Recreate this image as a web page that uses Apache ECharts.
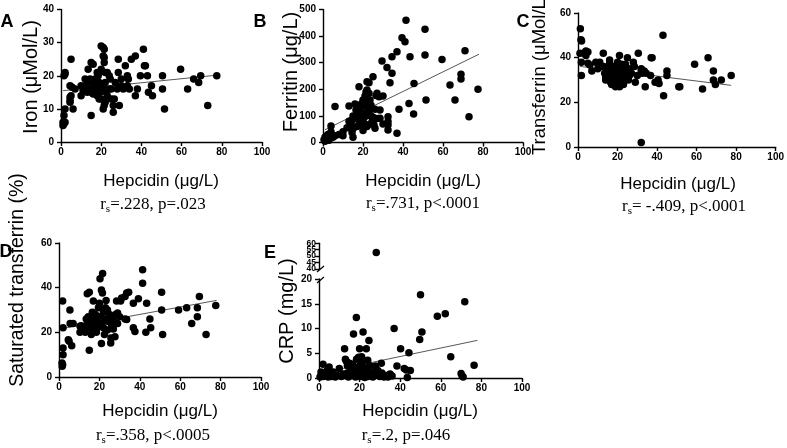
<!DOCTYPE html>
<html><head><meta charset="utf-8">
<script src="https://cdn.jsdelivr.net/npm/echarts@6/dist/echarts.min.js"></script>
<style>html,body{margin:0;padding:0;background:#fff}#c{width:787px;height:448px}</style>
</head><body><div id="c"></div>
<script>
// ---------- data (x = hepcidin µg/L) ----------
const xTitle = 'Hepcidin (\u03bcg/L)';
const panelLetters = ['A','B','C','D','E'];
const yTitles = ['Iron (\u03bcMol/L)','Ferritin (\u03bcg/L)','Transferrin (\u03bcMol/L)','Saturated transferrin (%)','CRP (mg/L)'];
const statTexts = ['=.228, p=.023','=.731, p<.0001','= -.409, p<.0001','=.358, p<.0005','=.2, p=.046'];
const crpUpperTicksA = [40,50,60];
const crpUpperTicksB = [45,55];

const ironPts = [[5,25],[2,21],[2,20.5],[1.5,20],[2,10],[1.5,8],[1,6],[1.5,5.5],[2,6],[1,5],[4.5,13.5],[4.5,12.5],[4.5,12],[5,14],[6,10],[4.5,17],[5.5,16.5],[7,16],[10,17],[10,14],[13.5,22],[15,24],[16,23.5],[15,8],[13,18],[14,18.5],[14.5,19],[13,15],[14,16],[15,15],[16,14.5],[16,16],[17,17],[17,15],[18,14],[18,16],[18.5,20],[19,21],[19,18],[19.5,15],[20,29],[21,28.5],[21.5,28],[21,26],[21.5,25.5],[21.5,24],[20,22],[22,21],[23,21],[21,10],[21.5,11],[20,13],[20,16],[21,17],[22,18],[22.5,15],[23,14],[24,16],[24.5,19],[25,16],[26,11],[26,9],[25,13],[26.5,13],[28.5,25],[28.5,21],[29,11],[28,16],[30,17],[31,16],[32,23],[33,20],[33.5,19],[33,17],[35,25],[37,26],[41,28],[41.5,23],[42,23],[39.5,20],[43,20],[38,16],[37,14],[43.5,15],[45,17],[45.5,14],[50.5,20],[50.5,16],[51.5,10],[59.5,22],[63,16],[66,19],[68.5,18],[69.5,20],[73,11],[77.5,20],[18,21],[17,19],[12,16],[11,15.5],[24,20],[27,18],[30,19],[34,16],[16,17.5],[19,13],[22,12],[12,19]];
const ironFit = [[1,15.5],[78,20.2]];

const ferritinPts = [[0.5,10],[1,20],[1.5,15],[2,25],[1,5],[2.5,30],[3,18],[4,62],[4,40],[5,20],[6,135],[6,25],[10,40],[10,25],[13,137],[13,80],[14,72],[14.5,85],[14.5,38],[15,20],[15,52],[16,145],[16.5,122],[17,88],[17,60],[18,210],[18,90],[18.5,75],[19,66],[19.5,147],[20,160],[20,110],[20.5,95],[21,175],[21,140],[21.5,190],[22,228],[22,197],[22,150],[22.5,130],[23,225],[23,185],[23,115],[23.5,160],[24,100],[24.5,78],[25,95],[25,247],[25.5,66],[26,54],[26.5,177],[27,185],[28,172],[28.5,122],[28.5,91],[29.5,306],[30,175],[32,282],[32.5,97],[32.5,79],[32.5,66],[32.5,47],[33.5,225],[34.5,260],[34.5,322],[37,341],[37,35],[38,125],[39.5,394],[41,379],[41.5,460],[43.5,322],[43,147],[45.3,107],[45.5,222],[51,426],[51,329],[51.5,160],[59.5,312],[63.5,216],[66,160],[69,257],[69,239],[71,345],[73,97],[77.5,200],[20,80],[21,70],[19,120],[17,105],[24,140],[22,60],[12,55],[8,30],[3,8],[15,100],[26,125],[20,45],[21.5,100],[18,140],[27,90],[30,70],[24,70]];
const ferritinFit = [[1,48],[78,332]];

const transferrinPts = [[1.2,53],[1.5,48],[1.8,47.5],[1,42],[1.7,38],[1.7,32],[3,42],[4,43],[5,42.5],[4,41],[5,37.5],[6,36.7],[7,34],[9,38],[10,35],[12.8,42],[13,36],[13.5,33],[14,31],[14,30],[15,35],[15.5,32],[16,39],[16,37.5],[16.5,29],[17,34],[17,28],[17.5,36],[18,33],[18.5,31],[19,27],[19,35],[19.5,30],[20,37],[20,32],[20.5,34],[21,27],[21,28.5],[21,41],[21.5,31],[22,35],[22,33],[22.5,30],[23,36],[23.5,32],[24,34],[25,40],[25,31],[25.5,30],[26,35],[27,33],[28,38],[28.5,36],[29,29],[30.5,42],[30,32],[32,35],[32,34.3],[32,2],[32.5,33],[33.5,34],[34,27],[34.5,33],[37,40],[37.5,40],[36.7,32],[39,29],[40.5,30],[41,28.4],[43,50],[43.3,23],[45,34],[45,32],[51,27],[51.5,27],[59,37],[63,26],[65.8,40],[68.5,34],[68.5,30],[69.5,28],[72.5,30],[77.5,32],[18,32],[15,33],[12,36],[11,38],[20,38],[24,37],[26,32],[19,33],[23,28],[22,37],[17,31]];
const transferrinFit = [[1,36.1],[77.5,27.6]];

const satPts = [[1.8,34],[2,22],[2,13],[2,10],[1.5,6.3],[1.8,5.5],[1.6,4.8],[4.6,16.7],[5,16],[5.4,30],[5.5,24],[7,24],[6.3,14],[10.4,22.7],[10.4,20],[13,20],[14,37.3],[15,38],[15,12],[13.5,26],[14,24],[14.5,27],[15,22],[16,25],[16.5,29],[17,34],[17,21],[17.5,26],[18,28],[18,23],[18.5,20],[19,25],[19.5,31],[20,27],[20.3,44],[21.6,46.3],[21,39],[21.5,37.6],[21,15],[21,24],[22,22],[22,29],[22.5,19],[23,26],[23.3,34.3],[24,25],[24,21],[25,28],[25.6,15.2],[25.7,17.5],[26,23],[26.9,21.5],[27.7,18],[27,25],[28.5,34],[28,28],[29,28.7],[30,27],[30.5,34],[31,35.4],[32.7,36],[32.7,26],[33.5,37.6],[33.5,25.7],[34.5,38],[36.8,33],[36.8,22],[37.6,20.4],[39.3,35],[41.4,48],[41.4,42],[43.4,33],[43,20],[45,26],[45.4,22],[50.8,38],[50.8,30],[51.3,19],[59.2,30],[63.2,31],[65.7,24],[68.5,31],[68.5,27],[69.5,36],[72.8,19],[77.6,32],[12,22],[16,19],[19,22],[20,33],[23,31],[26,27],[17,27],[11,23],[29,24],[24,30]];
const satFit = [[0.5,21.5],[78,34.3]];

const crpPts = [[0.5,0.2],[1,0.5],[1,1.2],[1.5,0.8],[2,2.8],[2,0.3],[3,1],[3.5,0.5],[4,1.5],[4.5,0.2],[5,2.2],[5.5,0.8],[6,0.3],[7,1.2],[9,0.5],[10,1.9],[11,0.3],[12,0.8],[12.6,5.9],[13,3.8],[13.5,3.4],[14,2.5],[14,1],[14.5,0.2],[15,3],[15.5,1.5],[16,0.5],[16.5,2.8],[17,8.9],[17.5,1],[18,0.2],[18.4,12.2],[18.5,3.8],[19,2],[19.5,4.2],[20,5.9],[20,1.2],[20.5,0.3],[21,3],[21,4.3],[21.7,9.3],[22,2.2],[22,0.8],[22.5,0.1],[23,1.5],[23.3,5.9],[24,3.6],[24.6,7.6],[25,0.5],[26,1.2],[26.5,0.2],[27.8,2.4],[28.2,52.8],[28.5,0.8],[29,1.5],[30,0.3],[30.7,3],[31,1],[32,0.2],[33,0.5],[34,0.2],[35,0.8],[37,10],[38.4,2.4],[40.2,5.9],[42,1.9],[43,1.6],[43.5,0.1],[44.3,5.1],[45,1.5],[49.6,7.8],[50,16.8],[50.7,9.3],[58.3,12.5],[62.2,13],[64.9,4.3],[70,0.9],[70.5,0.4],[71,0.2],[71.8,15.4],[76.4,2.6],[8,0.2],[16,2],[18,1.8],[24,0.3],[27,0.4],[36,0.4],[13,0.5],[20,2.5],[25,2.5]];
const crpFit = [[1,1.0],[78,7.6]];

// ---------- chart ----------
const chart = echarts.init(document.getElementById('c'), null, {renderer:'canvas'});
const SANS = 'Liberation Sans, Arial, sans-serif';
const SERIF = 'Liberation Serif, Times New Roman, serif';
const axLine = {show:true, onZero:false, lineStyle:{color:'#000', width:1.4}};
const axTick = {show:true, length:4, lineStyle:{color:'#000', width:1.4}};
function xAx(gi, show){
  return {type:'value', gridIndex:gi, min:0, max:100, interval:20, show:show!==false,
    axisLine:axLine, axisTick:axTick, splitLine:{show:false},
    axisLabel:{color:'#000', fontSize:10, fontWeight:'bold', fontFamily:SANS, margin:5, showMinLabel:true, showMaxLabel:true}};
}
function yAx(gi, min, max, interval){
  return {type:'value', gridIndex:gi, min:min, max:max, interval:interval,
    axisLine:axLine, axisTick:axTick, splitLine:{show:false},
    axisLabel:{color:'#000', fontSize:10, fontWeight:'bold', fontFamily:SANS, margin:7,
      showMinLabel:true, showMaxLabel:true}};
}
function upperY(vals, showLine){
  return {type:'value', gridIndex:5, min:40, max:60, interval:5, position:'left',
    axisLine:Object.assign({}, axLine, {show:showLine}), axisTick:Object.assign({}, axTick, {customValues:vals}), splitLine:{show:false},
    axisLabel:{color:'#000', fontSize:8.5, lineHeight:8, fontWeight:'bold', fontFamily:SANS, margin:3,
      customValues:vals, hideOverlap:false, showMinLabel:true, showMaxLabel:true}};
}
const grids = [
  {left:61, top:9.5, width:201, height:132.5},
  {left:323, top:9.5, width:200, height:133},
  {left:578, top:13, width:200, height:134},
  {left:59, top:243, width:202, height:134},
  {left:319, top:279, width:203, height:99},
  {left:319, top:243.3, width:203, height:25.7}
];
const xAxes = [xAx(0),xAx(1),xAx(2),xAx(3),xAx(4),xAx(5,false)];
const yAxes = [yAx(0,0,40,10), yAx(1,0,500,100), yAx(2,0,60,20), yAx(3,0,60,20), yAx(4,0,20,5),
  upperY(crpUpperTicksA, true), upperY(crpUpperTicksB, false)];

function sc(i, data){ return {type:'scatter', xAxisIndex:i, yAxisIndex:i, data:data, symbolSize:7.5, itemStyle:{color:'#000', opacity:1}, silent:true, z:3}; }
function fit(i, data){ return {type:'line', xAxisIndex:i, yAxisIndex:i, data:data, showSymbol:false, symbol:'none', lineStyle:{color:'#444', width:0.9}, silent:true, z:2}; }

const series = [
  sc(0, ironPts), fit(0, ironFit),
  sc(1, ferritinPts), fit(1, ferritinFit),
  sc(2, transferrinPts), fit(2, transferrinFit),
  sc(3, satPts), fit(3, satFit),
  sc(4, crpPts.filter(p=>p[1]<=20)), fit(4, crpFit),
  sc(5, crpPts.filter(p=>p[1]>=40))
];

// text positions (layout only)
const letterPos = [[7,22],[260,22],[523,22],[6,252],[270,253]];
const yTitlePos = [[31,77,20],[291,72,20],[540,74,18.5],[18,280,19.5],[287,311,20]];
const xTitlePos = [[161,181],[423,181],[678,184],[160,411],[420,411]];
const statPos = [[153,205],[423,204],[684,207],[153,436],[406,436]];

const graphic = [];
panelLetters.forEach((t,i)=>graphic.push({type:'text', x:letterPos[i][0], y:letterPos[i][1],
  style:{text:t, fontSize:18, fontWeight:'bold', fontFamily:SANS, fill:'#000', align:'center', verticalAlign:'middle'}}));
yTitles.forEach((t,i)=>graphic.push({type:'text', x:yTitlePos[i][0], y:yTitlePos[i][1], rotation:Math.PI/2,
  style:{text:t, fontSize:yTitlePos[i][2], fontFamily:SANS, fill:'#000', align:'center', verticalAlign:'middle'}}));
xTitlePos.forEach((p)=>graphic.push({type:'text', x:p[0], y:p[1],
  style:{text:xTitle, fontSize:17, fontFamily:SANS, fill:'#000', align:'center', verticalAlign:'middle'}}));
statTexts.forEach((t,i)=>graphic.push({type:'text', x:statPos[i][0], y:statPos[i][1],
  style:{text:'{a|r}{b|s}{a|'+t+'}', align:'center', verticalAlign:'middle', fill:'#000',
    rich:{a:{fontSize:17, fontFamily:SERIF, lineHeight:20, fill:'#000'}, b:{fontSize:11, fontFamily:SERIF, lineHeight:20, padding:[9,0,0,0], fill:'#000'}}}}));
// axis break marks on panel E
graphic.push({type:'line', shape:{x1:317, y1:272, x2:324, y2:266}, style:{stroke:'#000', lineWidth:1.2}});
graphic.push({type:'line', shape:{x1:317, y1:283, x2:324, y2:277}, style:{stroke:'#000', lineWidth:1.2}});

chart.setOption({animation:false, backgroundColor:'#fff', grid:grids, xAxis:xAxes, yAxis:yAxes, series:series, graphic:graphic});
</script></body></html>
